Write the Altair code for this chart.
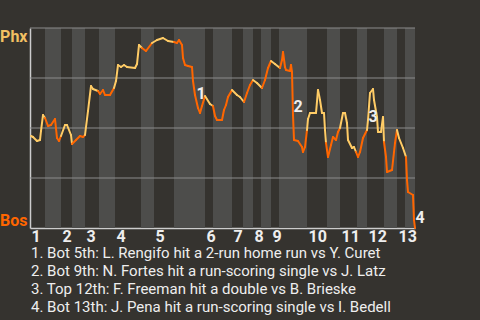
import bisect
import altair as alt
import pandas as pd

# Half-inning boundaries along the game-progress axis (top 1, bot 1, top 2, ...)
half_bounds = [0, 15, 31, 42, 55, 69, 85, 111, 124, 144, 175, 183, 202, 213,
               223, 231, 241, 249, 277, 297, 310, 327, 337, 354, 367, 375, 385]
inning_labels = [str(i) for i in range(1, 14)]

# Win probability for Phx (%) over game progress
prog = [1, 3, 7, 10, 11, 13, 15, 18, 21, 25, 27, 29, 31, 35, 37, 41, 42, 46, 50, 53,
        55, 58, 61, 63, 68, 70, 73, 75, 80, 84, 86, 88, 91, 94, 97, 105, 107, 109,
        112, 116, 122, 127, 133, 138, 144, 147, 149, 152, 153, 155, 158, 162, 163,
        165, 168, 170, 172, 175, 180, 183, 185, 187, 192, 194, 196, 198, 202, 207,
        210, 214, 217, 220, 223, 227, 232, 235, 238, 241, 245, 250, 252, 253, 255,
        256, 260, 261, 262, 263, 264, 268, 272, 273, 275, 277, 278, 280, 286, 288,
        290, 292, 294, 295, 296, 298, 301, 303, 306, 308, 310, 313, 315, 317, 318,
        322, 324, 326, 328, 330, 333, 337, 338, 340, 343, 344, 347, 348, 351, 353,
        354, 356, 357, 362, 365, 367, 369, 373, 376, 377, 378, 383, 384, 385]
wp = [46, 45.5, 43.5, 44, 48.5, 56.5, 55, 51, 51.5, 54.5, 45, 43.5, 46, 51.5, 51.5,
      46.5, 42, 44, 46, 45.5, 46.5, 58.5, 71, 69.5, 68.5, 67, 69, 66.5, 66.5, 70,
      73.5, 81.5, 80.5, 81.5, 80.5, 80, 82, 91.5, 90, 88.5, 92.5, 94, 95, 93.5, 93,
      92.5, 94, 91.5, 85, 81.5, 81, 80.5, 73.5, 66.5, 60, 57.5, 61, 66, 62, 61, 56,
      54, 54, 59, 61.5, 65.5, 69, 66.5, 65.5, 63, 67.5, 71.5, 74, 72.5, 70, 74, 80,
      83.5, 82, 80, 84, 88, 80.5, 79, 78.5, 81.5, 78, 56.5, 44, 43.5, 40.5, 38,
      40.5, 49, 54.5, 57.5, 57.5, 69, 64, 57.5, 57.5, 49, 42.5, 35.5, 41.5, 45.5,
      44, 48, 50, 57.5, 57.5, 52.5, 44, 40, 40.5, 38, 35.5, 38, 45, 49, 54, 67.5,
      69.5, 64, 55.5, 48, 48, 55.5, 43, 35.5, 28, 29, 42.5, 49, 45, 40, 35.5, 24,
      18, 16.5, 4, 0]

grid_values = [25, 50, 75, 100]

ann_labels = ["1", "2", "3", "4"]
ann_x = [171, 268, 343, 390]
ann_y = [67, 60.5, 55.5, 5]

notes = [
    "1. Bot 5th: L. Rengifo hit a 2-run home run vs Y. Curet",
    "2. Bot 9th: N. Fortes hit a run-scoring single vs J. Latz",
    "3. Top 12th: F. Freeman hit a double vs B. Brieske",
    "4. Bot 13th: J. Pena hit a run-scoring single vs I. Bedell",
]

YELLOW = "#ffcc66"
ORANGE = "#ff6600"
BG = "#35332f"
BAND = "#4d4d4b"
FONT = "Roboto"

# bands for bottom halves
bands = pd.DataFrame({
    "start": half_bounds[1::2],
    "end": half_bounds[2::2],
})

segs = []
for i in range(len(prog) - 1):
    mid = (prog[i] + prog[i + 1]) / 2
    idx = bisect.bisect_right(half_bounds, mid) - 1
    segs.append({"x": prog[i], "x2": prog[i + 1], "y": wp[i], "y2": wp[i + 1],
                 "side": "Phx" if idx % 2 == 0 else "Bos"})
seg_df = pd.DataFrame(segs)

top_starts = [v + 1 for v in half_bounds[0::2][:13]]
label_expr = "[" + ",".join("'" + s + "'" for s in inning_labels) + "][indexof([" + \
    ",".join(str(v) for v in top_starts) + "], datum.value)]"

xscale = alt.Scale(domain=[0, 385], nice=False, zero=False)
yscale = alt.Scale(domain=[0, 100], nice=False)

xaxis = alt.Axis(values=top_starts, labelExpr=label_expr, title=None, grid=False,
                 ticks=False, domainColor="#cccccc", domainWidth=1.5,
                 labelColor="#eeeeee", labelFont=FONT, labelFontWeight="bold",
                 labelFontSize=16, labelAlign="left", labelPadding=0,
                 labelOverlap=False, labelFlush=False, labelBaseline="top",
                 labelBound=False)
yaxis = alt.Axis(values=[0, 100], title=None, grid=False, ticks=False,
                 domainColor="#cccccc", domainWidth=1.5,
                 labelExpr="datum.value == 100 ? 'Phx' : 'Bos'",
                 labelColor={"condition": {"test": "datum.value == 100", "value": "#f2c063"},
                             "value": ORANGE},
                 labelFont=FONT, labelFontWeight="bold", labelFontSize=16,
                 labelFlush=True, labelPadding=3, labelOverlap=False)

band_layer = alt.Chart(bands).mark_rect(color=BAND).encode(
    x=alt.X("start:Q", scale=xscale, axis=xaxis),
    x2="end:Q",
    y=alt.value(0),
    y2=alt.value(200),
)

grid_layer = alt.Chart(pd.DataFrame({"g": grid_values})).mark_rule(
    color="#8c8c8c", strokeWidth=1).encode(
    y=alt.Y("g:Q", scale=yscale, axis=yaxis),
    x=alt.value(0), x2=alt.value(385),
)

line_layer = alt.Chart(seg_df).mark_rule(strokeWidth=2, strokeCap="round").encode(
    x=alt.X("x:Q", scale=xscale, axis=xaxis),
    x2="x2:Q",
    y=alt.Y("y:Q", scale=yscale, axis=yaxis),
    y2="y2:Q",
    color=alt.Color("side:N", scale=alt.Scale(domain=["Phx", "Bos"], range=[YELLOW, ORANGE]),
                    legend=None),
)

ann_layer = alt.Chart(pd.DataFrame({"x": ann_x, "y": ann_y, "t": ann_labels})).mark_text(
    font=FONT, fontSize=16, fontWeight="bold", color="#eeeeee",
    align="center", baseline="middle").encode(
    x=alt.X("x:Q", scale=xscale, axis=xaxis),
    y=alt.Y("y:Q", scale=yscale, axis=yaxis),
    text="t:N",
)

notes_layer = alt.Chart(pd.DataFrame({"t": ["\n".join(notes)]})).mark_text(
    font=FONT, fontSize=15, color="#eeeeee", align="left", baseline="middle",
    lineBreak="\n", lineHeight=18).encode(
    x=alt.value(1),
    y=alt.value(225),
    text="t:N",
)

chart = alt.layer(band_layer, grid_layer, line_layer, ann_layer, notes_layer).properties(
    width=385, height=200,
    autosize=alt.AutoSizeParams(type="none"),
    padding={"left": 30, "top": 28, "right": 65, "bottom": 92},
    background=BG,
).configure_view(stroke=None, fill=BG).configure_axis(labelOverlap=False)

chart.save("out.html", embed_options={"renderer": "svg", "actions": False})
